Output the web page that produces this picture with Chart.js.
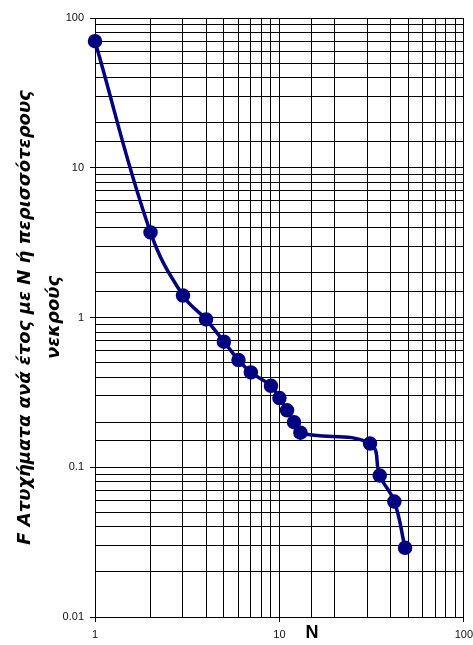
<!DOCTYPE html>
<html>
<head>
<meta charset="utf-8">
<script src="https://cdn.jsdelivr.net/npm/chart.js@4.4.1/dist/chart.umd.min.js"></script>
<style>
  html, body { margin: 0; padding: 0; background: #fff; overflow: hidden; }
  #wrap { width: 479px; height: 645px; }
</style>
</head>
<body>
<div id="wrap"><canvas id="myChart"></canvas></div>
<script>
// Data
const deaths = [1, 2, 3, 4, 5, 6, 7, 9, 10, 11, 12, 13, 31, 35, 42, 48];
const freq = [70, 3.7, 1.4, 0.97, 0.69, 0.52, 0.43, 0.35, 0.29, 0.24, 0.2, 0.17, 0.144, 0.088, 0.059, 0.029];
const yTitle = ["F Ατυχήματα ανά έτος με Ν ή περισσότερους", "νεκρούς"];
const xTitle = "N";

const isDecade = v => Math.abs(Math.log10(v) - Math.round(Math.log10(v))) < 1e-6;
const tickCol = ctx => (ctx.tick && isDecade(ctx.tick.value)) ? "#000" : "rgba(0,0,0,0)";

// "N" sits on the tick label row, right of the 10 label
const xTitlePlugin = {
  id: "xTitle",
  afterDraw(chart) {
    const c = chart.ctx;
    const x = chart.scales.x.getPixelForValue(15);
    c.save();
    c.font = "bold 18px 'Liberation Sans', Arial, sans-serif";
    c.fillStyle = "#000";
    c.textAlign = "center";
    c.textBaseline = "middle";
    c.fillText(xTitle, x, 633);
    c.restore();
  }
};

const config = {
  type: "line",
  data: {
    labels: deaths,
    datasets: [{
      data: deaths.map((d, i) => ({ x: d, y: freq[i] })),
      borderColor: "#000080",
      backgroundColor: "#000080",
      borderWidth: 3.5,
      pointRadius: 5.5,
      pointHoverRadius: 5.5,
      tension: 0.4,
      clip: false
    }]
  },
  options: {
    responsive: true,
    maintainAspectRatio: false,
    animation: false,
    events: [],
    layout: { padding: { top: 18, right: 10, left: 0, bottom: 0 } },
    plugins: { legend: { display: false }, tooltip: { enabled: false } },
    scales: {
      x: {
        type: "logarithmic",
        min: 1,
        max: 100,
        afterFit(s) { s.height = 28; },
        border: { color: "#000", width: 1 },
        grid: { color: "#000", lineWidth: 1, tickLength: 5, tickColor: tickCol },
        ticks: {
          autoSkip: false,
          maxRotation: 0,
          padding: 6,
          color: "#111",
          font: { family: "'Liberation Sans', Arial, sans-serif", size: 11 },
          callback: v => isDecade(v) ? String(v) : ""
        }
      },
      y: {
        type: "logarithmic",
        min: 0.01,
        max: 100,
        afterFit(s) { s.width = 95; },
        border: { color: "#000", width: 1 },
        grid: { color: "#000", lineWidth: 1, tickLength: 5, tickColor: tickCol },
        ticks: {
          autoSkip: false,
          padding: 6,
          color: "#111",
          font: { family: "'Liberation Sans', Arial, sans-serif", size: 11 },
          callback: v => isDecade(v) ? String(v) : ""
        },
        title: {
          display: true,
          text: yTitle,
          color: "#000",
          padding: { top: 10, bottom: 0 },
          font: { family: "'DejaVu Sans', Verdana, sans-serif", size: 18, weight: "bold", style: "italic", lineHeight: 1.65 }
        }
      }
    }
  },
  plugins: [xTitlePlugin]
};

// Create chart
const ctx = document.getElementById("myChart").getContext("2d");
const myChart = new Chart(ctx, config);
</script>
</body>
</html>
